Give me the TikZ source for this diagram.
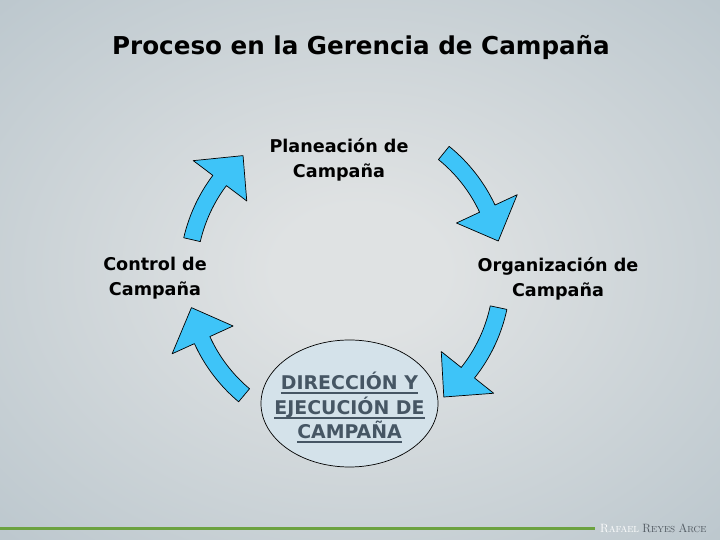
\documentclass[tikz,border=0pt]{standalone}
\usepackage{fontspec}
\usepackage{tikz}
\setmainfont{DejaVu Sans}
\newfontfamily\signfont{Latin Modern Roman}

\definecolor{bgin}{RGB}{223,226,227}
\definecolor{bgout}{RGB}{164,181,191}
\definecolor{arrowblue}{RGB}{62,196,248}
\definecolor{ovalfill}{RGB}{212,226,234}
\definecolor{ovaltext}{RGB}{70,86,100}
\definecolor{linegreen}{RGB}{108,162,64}
\definecolor{signgray}{RGB}{78,86,94}

\pgfdeclareradialshading{bgglow}{\pgfpoint{0bp}{0bp}}{color(0bp)=(bgin); color(6bp)=(bgin); color(56bp)=(bgout); color(100bp)=(bgout)}

\newsavebox\ovbox
\newcommand\ovline[1]{\sbox\ovbox{#1}\rlap{\usebox\ovbox}\rule[-4.5bp]{\wd\ovbox}{1.6bp}}
\newcommand\sigsc[2]{{\fontsize{12bp}{12bp}\selectfont #1}{\fontsize{8.8bp}{8.8bp}\selectfont #2}}

% tail angle, head base angle, tip angle
\newcommand\cyclearrow[3]{%
  \filldraw[cyclearrowstyle] ([shift={(#1:148.5)}]ctr) arc[start angle=#1, end angle=#2, radius=148.5]
    -- ([shift={(#2:123)}]ctr) -- ([shift={(#3:157)}]ctr) -- ([shift={(#2:190)}]ctr)
    -- ([shift={(#2:165.5)}]ctr) arc[start angle=#2, end angle=#1, radius=165.5] -- cycle;}

\usetikzlibrary{shapes.geometric}
\tikzset{
  cyclearrowstyle/.style={fill=arrowblue, draw=black, line width=0.7bp, line join=round},
  steplabel/.style={align=center, inner sep=0, font=\fontsize{17.6bp}{25bp}\selectfont\bfseries},
  titletext/.style={inner sep=0, font=\fontsize{24.6bp}{28bp}\selectfont\bfseries},
  ovalbox/.style={ellipse, draw=black, line width=0.7bp, fill=ovalfill, minimum width=177bp,
    minimum height=127bp, inner sep=0},
  ovaltextstyle/.style={inner sep=0, align=center, text=ovaltext,
    font=\fontsize{18.9bp}{24.5bp}\selectfont\bfseries}
}

\begin{document}
\begin{tikzpicture}[x=1bp, y=1bp]
\useasboundingbox (0,0) rectangle (720,540);
\shade[shading=bgglow] (0,0) rectangle (720,540);

\coordinate (ctr) at (345,265);

\node[titletext] (title) at (361,492) {Proceso en la Gerencia de Campaña};

\cyclearrow{167}{143}{130.5}
\cyclearrow{51}{25}{12.5}
\cyclearrow{-12}{-38.5}{-51}
\cyclearrow{230}{204.5}{192}

\node[steplabel] (plan) at (339,380) {Planeación de\\Campaña};
\node[steplabel] (org) at (558,261) {Organización de\\Campaña};
\node[steplabel] (ctrl) at (155,262) {Control de\\Campaña};
\node[ovalbox] (exec) at (349.5,136.5) {};
\node[ovaltextstyle] (exectext) at ([yshift=-4bp]exec.center) {\ovline{DIRECCIÓN Y}\\\ovline{EJECUCIÓN DE}\\\ovline{CAMPAÑA}};

\draw[linegreen, line width=3.5bp] (0,11.5) -- (595,11.5);
\node[anchor=base west, inner sep=0] (sign) at (600,7) {\signfont\color{white}\sigsc{R}{AFAEL} \color{signgray}\sigsc{R}{EYES} \sigsc{A}{RCE}};
\end{tikzpicture}
\end{document}
